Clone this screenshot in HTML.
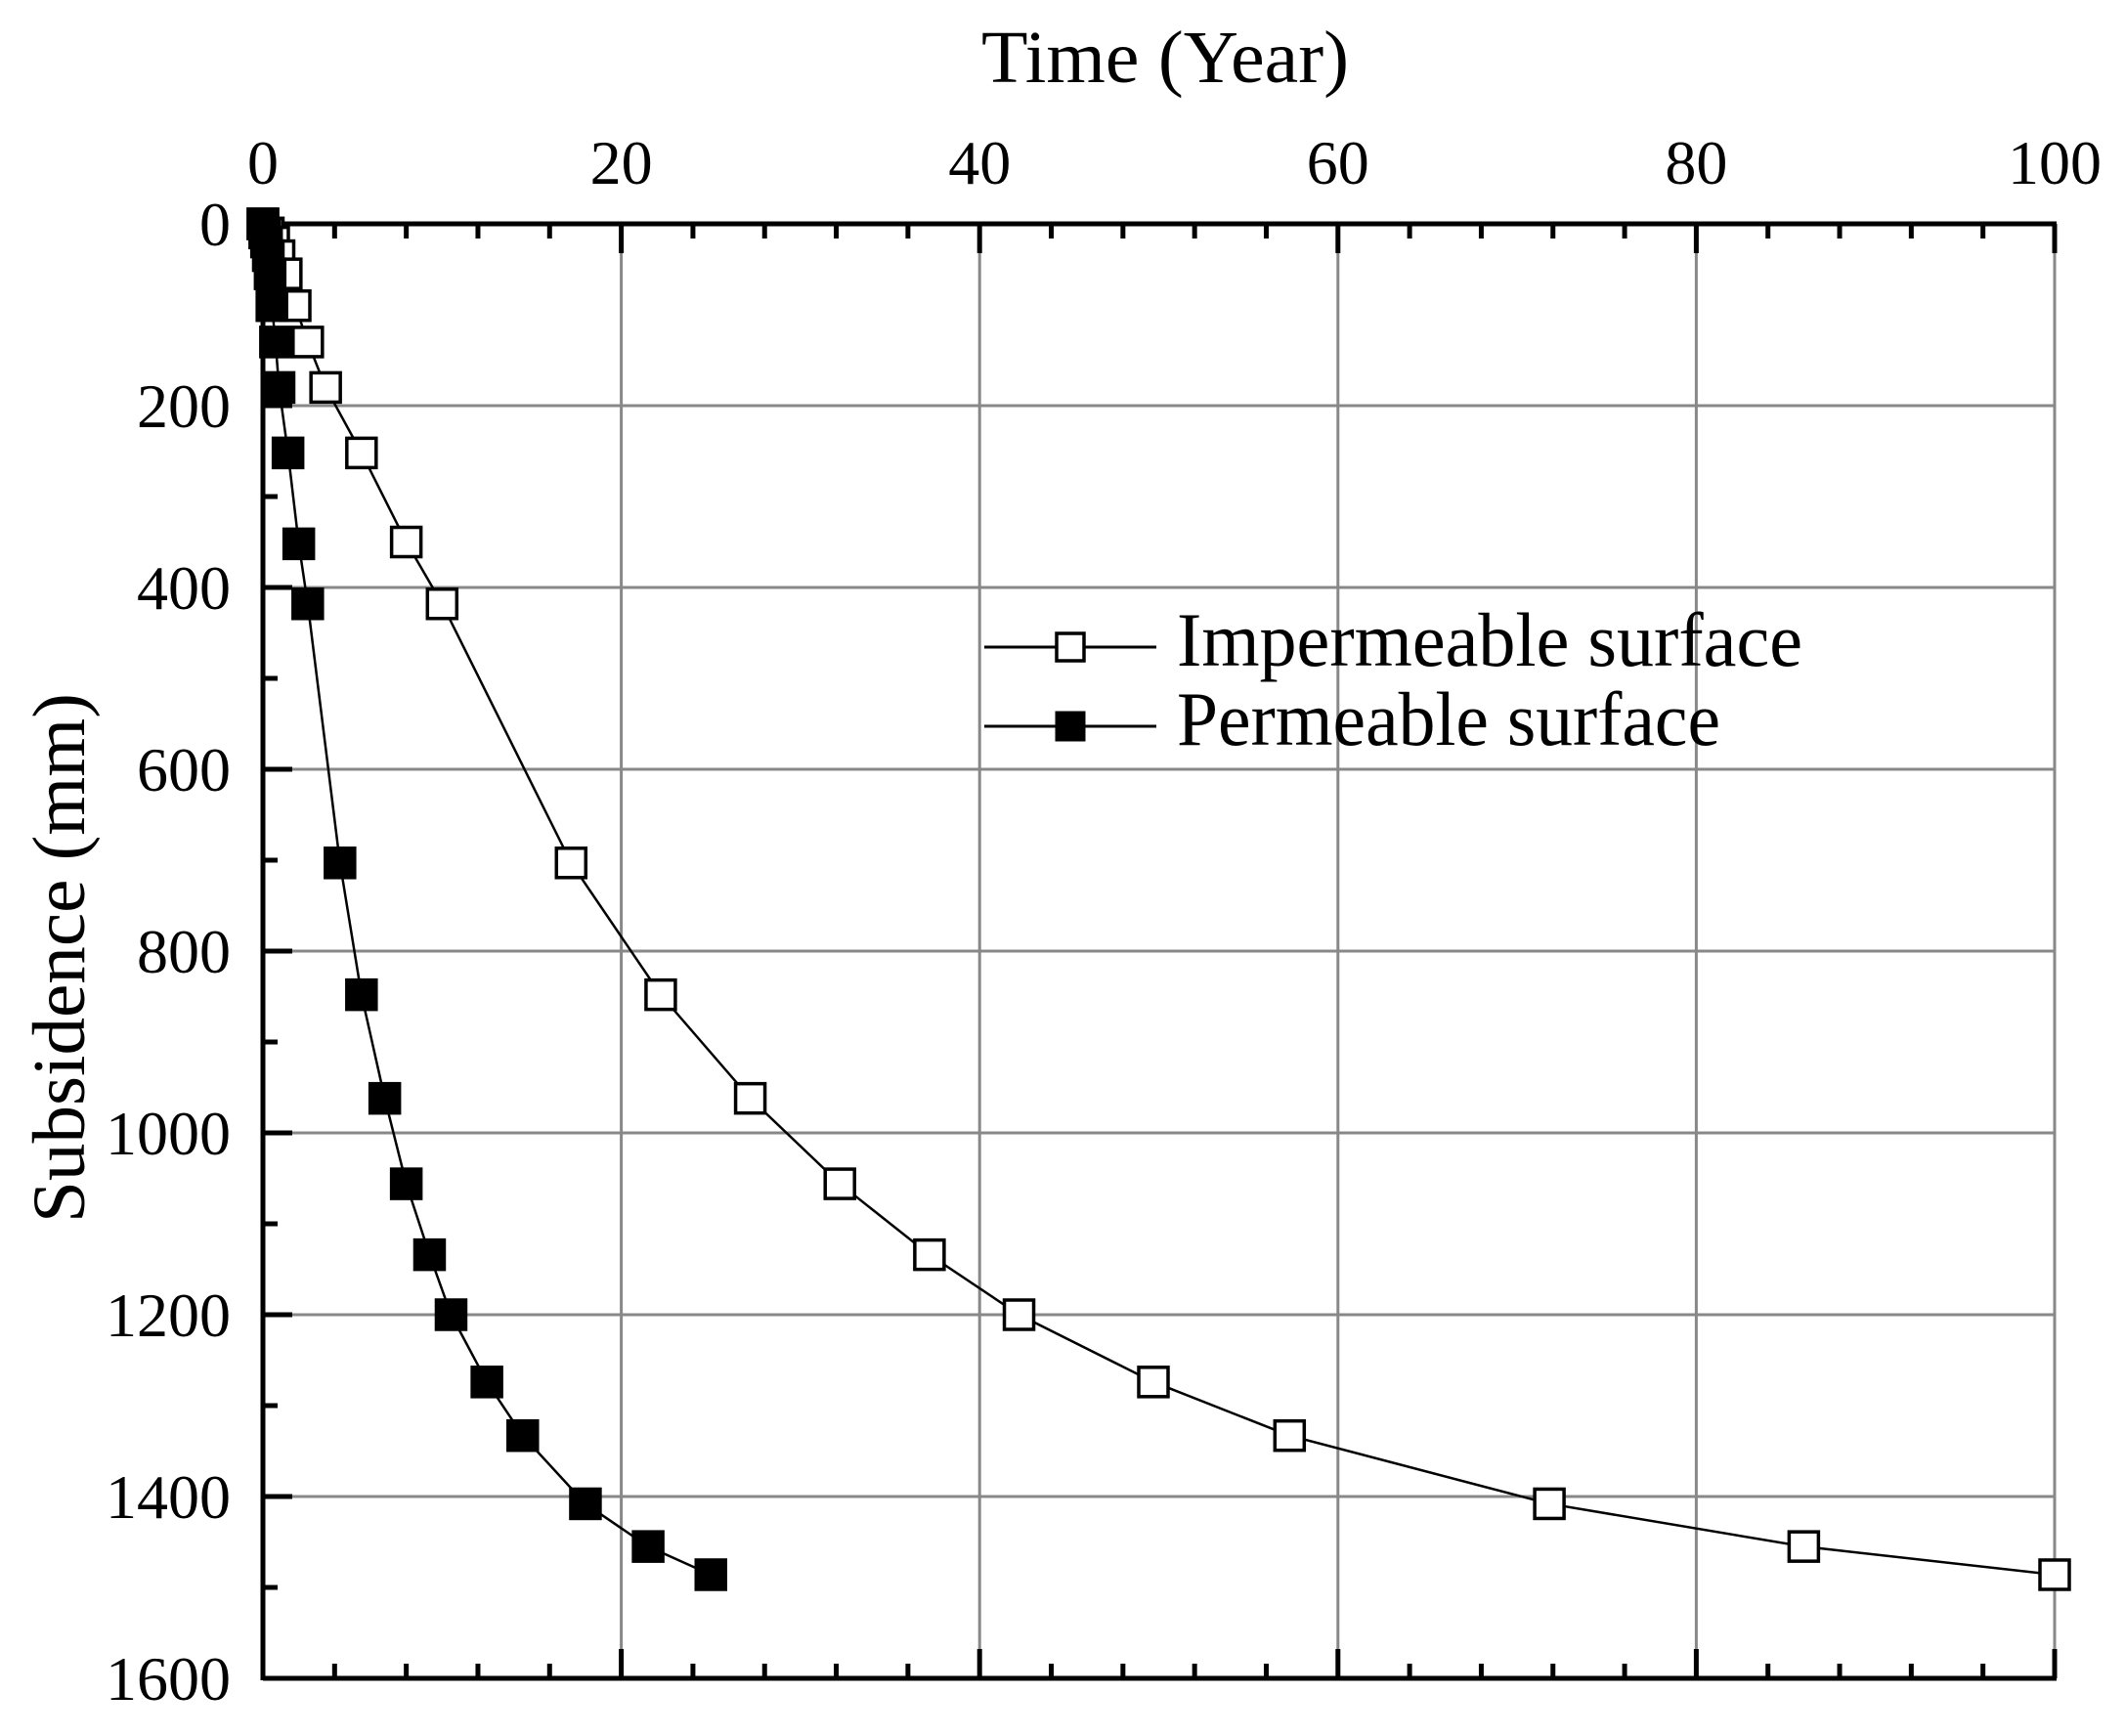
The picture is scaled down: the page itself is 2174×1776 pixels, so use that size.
<!DOCTYPE html>
<html><head><meta charset="utf-8"><style>html,body{margin:0;padding:0;background:#fff}svg{display:block}</style></head>
<body>
<svg width="2174" height="1776" xmlns="http://www.w3.org/2000/svg" font-family="'Liberation Serif', serif">
<rect width="2174" height="1776" fill="#fff"/>
<g id="grid" stroke="#888" stroke-width="3">
</g>
<g id="axes"></g>
<g id="series"></g>
<text x="1192" y="84" font-size="76" text-anchor="middle" textLength="376" lengthAdjust="spacingAndGlyphs">Time (Year)</text>
<text transform="translate(86,980) rotate(-90)" font-size="76" text-anchor="middle" textLength="542" lengthAdjust="spacingAndGlyphs">Subsidence (mm)</text>
<g id="labels" font-size="64"></g>
<line x1="1007" y1="662" x2="1183" y2="662" stroke="#000" stroke-width="3"/>
<rect x="1081" y="648" width="28" height="28" fill="#fff" stroke="#000" stroke-width="3.5"/>
<line x1="1007" y1="743" x2="1183" y2="743" stroke="#000" stroke-width="3"/>
<rect x="1081" y="729" width="28" height="28" fill="#000" stroke="#000" stroke-width="3"/>
<text x="1204" y="681" font-size="78" textLength="640" lengthAdjust="spacingAndGlyphs">Impermeable surface</text>
<text x="1204" y="762" font-size="78" textLength="556" lengthAdjust="spacingAndGlyphs">Permeable surface</text>
<script>
var X0=269,X1=2102,Y0=229,Y1=1717;
function sx(v){return X0+(X1-X0)*v/100}
function sy(v){return Y0+(Y1-Y0)*v/1600}
var ns="http://www.w3.org/2000/svg";
function el(p,t,a){var e=document.createElementNS(ns,t);for(var k in a)e.setAttribute(k,a[k]);p.appendChild(e);return e}
var g=document.getElementById('grid'),ax=document.getElementById('axes'),lb=document.getElementById('labels'),se=document.getElementById('series');
for(var i=1;i<=5;i++){el(g,'line',{x1:sx(i*20),y1:Y0,x2:sx(i*20),y2:Y1});}
for(var j=1;j<8;j++){el(g,'line',{x1:X0,y1:sy(j*200),x2:X1,y2:sy(j*200)});}
var bk={stroke:'#000','stroke-width':5};
el(ax,'line',Object.assign({x1:X0,y1:Y0,x2:X1+2,y2:Y0},bk));
el(ax,'line',Object.assign({x1:X0,y1:Y1,x2:X1+2,y2:Y1},bk));
el(ax,'line',Object.assign({x1:X0,y1:Y0-2,x2:X0,y2:Y1+2},bk));
for(var v=0;v<=100;v+=4){var L=(v%20==0)?30:15;var x=sx(v);
el(ax,'line',Object.assign({x1:x,y1:Y0,x2:x,y2:Y0+L},bk));el(ax,'line',Object.assign({x1:x,y1:Y1,x2:x,y2:Y1-L},bk));}
for(var v=0;v<=1600;v+=100){var L=(v%200==0)?30:15;var y=sy(v);el(ax,'line',Object.assign({x1:X0,y1:y,x2:X0+L,y2:y},bk));
if(v%200==0){var t=el(lb,'text',{x:236,y:y+22,'text-anchor':'end'});t.textContent=v;}}
for(var v=0;v<=100;v+=20){var t=el(lb,'text',{x:sx(v),y:188,'text-anchor':'middle'});t.textContent=v;}
var imp=[[0,0],[0.3,10],[0.6,20],[0.9,35],[1.3,55],[1.8,90],[2.5,130],[3.5,180],[5.5,252],[8,350],[10,418],[17.2,703],[22.2,848],[27.2,962],[32.2,1056],[37.2,1134],[42.2,1200],[49.7,1274],[57.3,1333],[71.8,1408],[86,1455],[100,1486]];
var per=[[0,0],[0.1,10],[0.2,20],[0.3,35],[0.4,55],[0.5,90],[0.7,130],[0.9,180],[1.4,252],[2,352],[2.5,418],[4.3,703],[5.5,848],[6.8,962],[8,1056],[9.3,1134],[10.5,1200],[12.5,1274],[14.5,1333],[18,1408],[21.5,1455],[25,1486]];
function draw(d,fill){el(se,'polyline',{points:d.map(function(p){return sx(p[0])+','+sy(p[1])}).join(' '),fill:'none',stroke:'#000','stroke-width':2.5});
d.forEach(function(p){el(se,'rect',{x:sx(p[0])-15,y:sy(p[1])-15,width:30,height:30,fill:fill,stroke:'#000','stroke-width':3.5});});}
draw(imp,'#fff');draw(per,'#000');
</script>
</svg>
</body></html>
